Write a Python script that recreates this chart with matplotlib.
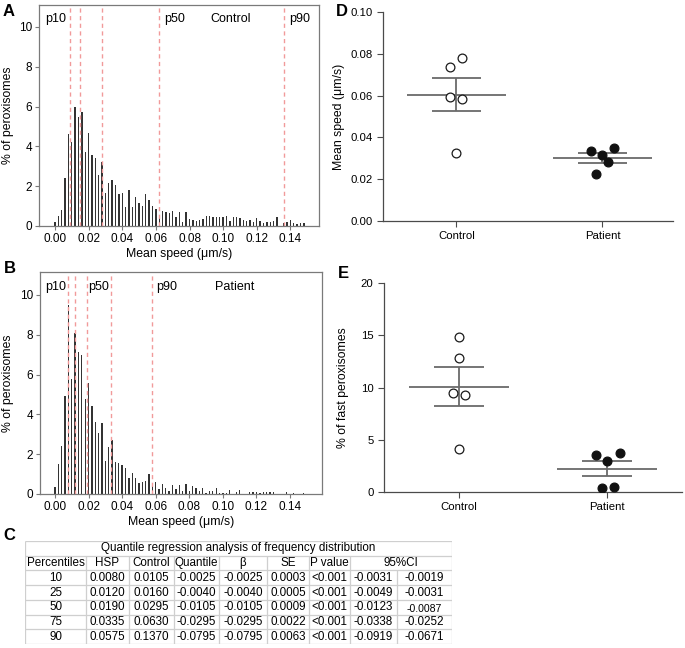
import numpy as np
import matplotlib
matplotlib.use("Agg")
import matplotlib.pyplot as plt

plt.rcParams['font.family'] = ['Liberation Sans', 'DejaVu Sans']

# histogram data (% of peroxisomes per 0.002 um/s bin)
bin_width = 0.002
control_hist = [0.2, 0.5, 0.8, 2.4, 4.6, 4.2, 5.96, 5.45, 5.75, 3.74,
                4.66, 3.57, 3.4, 2.57, 3.19, 1.68, 2.15, 2.3, 2.06, 1.6,
                1.68, 0.94, 1.8, 0.94, 1.48, 1.14, 1.0, 1.62, 1.32, 1.0,
                0.84, 0.45, 0.75, 0.72, 0.67, 0.75, 0.47, 0.72, 0.22, 0.72,
                0.34, 0.3, 0.27, 0.3, 0.34, 0.5, 0.5, 0.44, 0.44, 0.44,
                0.47, 0.5, 0.27, 0.44, 0.44, 0.39, 0.3, 0.27, 0.3, 0.22,
                0.39, 0.27, 0.17, 0.22, 0.22, 0.27, 0.47, 0.0, 0.13, 0.22,
                0.3, 0.17, 0.1, 0.17, 0.17]
patient_hist = [0.37, 1.5, 2.4, 4.9, 9.5, 5.8, 8.07, 7.15, 7.0, 4.75,
                5.6, 4.42, 3.63, 3.05, 3.55, 1.66, 2.38, 2.71, 1.62, 1.54,
                1.46, 1.29, 0.79, 1.07, 0.79, 0.55, 0.6, 0.67, 1.0, 0.54,
                0.6, 0.23, 0.5, 0.28, 0.17, 0.45, 0.23, 0.45, 0.17, 0.5,
                0.17, 0.4, 0.28, 0.17, 0.28, 0.07, 0.17, 0.17, 0.28, 0.07,
                0.03, 0.07, 0.2, 0.0, 0.08, 0.2, 0.0, 0.0, 0.1, 0.1,
                0.1, 0.07, 0.08, 0.08, 0.12, 0.12, 0.0, 0.0, 0.0, 0.12,
                0.0, 0.07, 0.0, 0.0, 0.03]
control_lines = [0.0088, 0.0147, 0.0280, 0.0620, 0.1362]
patient_lines = [0.0080, 0.0120, 0.0190, 0.0335, 0.0575]

# scatter data
groups = ['Control', 'Patient']
speed_control = [0.078, 0.0737, 0.0592, 0.0583, 0.0323]
speed_control_jit = [0.041, -0.041, -0.041, 0.041, 0.0]
speed_patient = [0.0347, 0.0336, 0.0315, 0.0283, 0.0224]
speed_patient_jit = [0.082, -0.08, 0.0, 0.041, -0.041]
speed_mean = [0.0603, 0.0301]
speed_sem_hi = [0.0685, 0.0323]
speed_sem_lo = [0.0526, 0.0279]

fast_control = [14.85, 12.85, 9.45, 9.3, 4.1]
fast_control_jit = [0.0, 0.0, -0.04, 0.04, 0.0]
fast_patient = [3.72, 3.53, 2.99, 0.38, 0.45]
fast_patient_jit = [0.086, -0.074, 0.0, -0.034, 0.045]
fast_mean = [10.08, 2.19]
fast_sem_hi = [11.93, 2.93]
fast_sem_lo = [8.27, 1.5]

# table
table_title = 'Quantile regression analysis of frequency distribution'
table_header = ['Percentiles', 'HSP', 'Control', 'Quantile', 'β', 'SE', 'P value', '95%CI']
table_rows = [
    ['10', '0.0080', '0.0105', '-0.0025', '-0.0025', '0.0003', '<0.001', '-0.0031', '-0.0019'],
    ['25', '0.0120', '0.0160', '-0.0040', '-0.0040', '0.0005', '<0.001', '-0.0049', '-0.0031'],
    ['50', '0.0190', '0.0295', '-0.0105', '-0.0105', '0.0009', '<0.001', '-0.0123', '-0.0087'],
    ['75', '0.0335', '0.0630', '-0.0295', '-0.0295', '0.0022', '<0.001', '-0.0338', '-0.0252'],
    ['90', '0.0575', '0.1370', '-0.0795', '-0.0795', '0.0063', '<0.001', '-0.0919', '-0.0671'],
]

W, H = 685, 648
fig = plt.figure(figsize=(W / 100, H / 100), dpi=100)


def px_axes(l, t, r, b):
    return fig.add_axes([l / W, 1 - b / H, (r - l) / W, (b - t) / H])


frame_col = '#7a7a7a'


def hist_panel(ax, vals, lines, xlim, labels, ylim_top, label_x):
    x = np.arange(len(vals)) * bin_width
    ax.bar(x, vals, width=0.0008, color='#333333', linewidth=0)
    for v in lines:
        ax.axvline(v, color='#f19a9a', lw=1.0, ls=(0, (3, 2.5)))
    ax.set_xlim(*xlim)
    ax.set_ylim(0, ylim_top)
    ax.set_xticks(np.arange(0, 0.141, 0.02))
    ax.set_xticklabels([f'{v:.2f}' for v in np.arange(0, 0.141, 0.02)])
    ax.set_yticks([0, 2, 4, 6, 8, 10])
    ax.tick_params(labelsize=8.5, length=3, width=0.8, color=frame_col, pad=2)
    for s in ax.spines.values():
        s.set_color(frame_col)
        s.set_linewidth(0.9)
    ax.set_xlabel('Mean speed (μm/s)', fontsize=8.8, labelpad=2)
    ax.set_ylabel('% of peroxisomes', fontsize=8.8)
    ax.yaxis.set_label_coords(label_x, 0.5)
    for tx, txt in labels:
        ax.text(tx, 10.4, txt, fontsize=9, va='center', ha='left')


axA = px_axes(39, 5, 319, 226)
hist_panel(axA, control_hist, control_lines, (-0.0095, 0.157),
           [(-0.0057, 'p10'), (0.0652, 'p50'), (0.0925, 'Control'), (0.139, 'p90')],
           11.1, -0.089)
axB = px_axes(40, 272, 322, 494)
hist_panel(axB, patient_hist, patient_lines, (-0.0089, 0.159),
           [(-0.006, 'p10'), (0.0197, 'p50'), (0.0602, 'p90'), (0.0955, 'Patient')],
           11.15, -0.092)


def dot_panel(ax, c_vals, c_jit, p_vals, p_jit, mean, hi, lo, ylim, yticks, fmt,
              ylabel, xlim, label_x):
    pos = np.arange(len(groups))
    ax.scatter(pos[0] + np.array(c_jit), c_vals, s=40, facecolor='white',
               edgecolor='#1a1a1a', linewidth=0.9, zorder=3)
    ax.scatter(pos[1] + np.array(p_jit), p_vals, s=40, facecolor='#111111',
               edgecolor='#111111', linewidth=0.9, zorder=3)
    for i in pos:
        ax.hlines(mean[i], i - 0.34, i + 0.34, color='#6a6a6a', lw=1.3, zorder=2)
        ax.hlines([hi[i], lo[i]], i - 0.17, i + 0.17, color='#6a6a6a', lw=1.3, zorder=2)
        ax.vlines(i, lo[i], hi[i], color='#6a6a6a', lw=1.3, zorder=2)
    ax.set_xlim(*xlim)
    ax.set_ylim(*ylim)
    ax.set_yticks(yticks)
    ax.set_yticklabels([fmt.format(v) for v in yticks])
    ax.set_xticks(pos)
    ax.set_xticklabels(groups)
    for side in ['top', 'right']:
        ax.spines[side].set_visible(False)
    for side in ['left', 'bottom']:
        ax.spines[side].set_color('#4a4a4a')
        ax.spines[side].set_linewidth(0.9)
    ax.tick_params(labelsize=8.2, length=4.5, width=0.8, color='#4a4a4a', pad=3)
    ax.set_ylabel(ylabel, fontsize=8.8)
    ax.yaxis.set_label_coords(label_x, 0.5)


axD = px_axes(383, 12, 673, 221)
dot_panel(axD, speed_control, speed_control_jit, speed_patient, speed_patient_jit,
          speed_mean, speed_sem_hi, speed_sem_lo, (0, 0.10),
          [0.0, 0.02, 0.04, 0.06, 0.08, 0.10], '{:.2f}', 'Mean speed (μm/s)',
          (-0.503, 1.483), -0.131)
axE = px_axes(384, 283, 682, 492)
dot_panel(axE, fast_control, fast_control_jit, fast_patient, fast_patient_jit,
          fast_mean, fast_sem_hi, fast_sem_lo, (0, 20),
          [0, 5, 10, 15, 20], '{:g}', '% of fast peroxisomes',
          (-0.507, 1.507), -0.117)

# table panel C
axT = px_axes(25, 541, 452, 644)
col_edges = [0, 61, 104, 149, 194, 242, 284, 325, 372, 427]
n_rows = 2 + len(table_rows)
axT.set_xlim(0, col_edges[-1])
axT.set_ylim(n_rows, 0)
axT.axis('off')
grid_col = '#cfcfcf'
axT.hlines(np.arange(n_rows + 1), 0, col_edges[-1], color=grid_col, lw=0.9)
axT.vlines([col_edges[0], col_edges[-1]], 0, n_rows, color=grid_col, lw=0.9)
axT.vlines(col_edges[1:-2], 1, n_rows, color=grid_col, lw=0.9)
axT.vlines(col_edges[-2], 2, n_rows, color=grid_col, lw=0.9)
fs = 8.4
axT.text(col_edges[-1] / 2, 0.5, table_title, ha='center', va='center', fontsize=fs)
for j, h in enumerate(table_header):
    if j == len(table_header) - 1:
        cx = (col_edges[j] + col_edges[-1]) / 2
    else:
        cx = (col_edges[j] + col_edges[j + 1]) / 2
    axT.text(cx, 1.5, h, ha='center', va='center', fontsize=fs)
for i, row in enumerate(table_rows):
    for j, val in enumerate(row):
        cx = (col_edges[j] + col_edges[j + 1]) / 2
        if val == '-0.0087':
            axT.text(cx, 2.6 + i, val, ha='center', va='center', fontsize=7.6)
        else:
            axT.text(cx, 2.5 + i, val, ha='center', va='center', fontsize=fs)

# panel letters
for lx, ly, letter in [(9, 12, 'A'), (10, 268, 'B'), (9, 536, 'C'), (342, 12, 'D'), (343, 274, 'E')]:
    fig.text(lx / W, 1 - ly / H, letter, fontsize=12, fontweight='bold', ha='center', va='center')

fig.savefig('out.png', dpi=100)
